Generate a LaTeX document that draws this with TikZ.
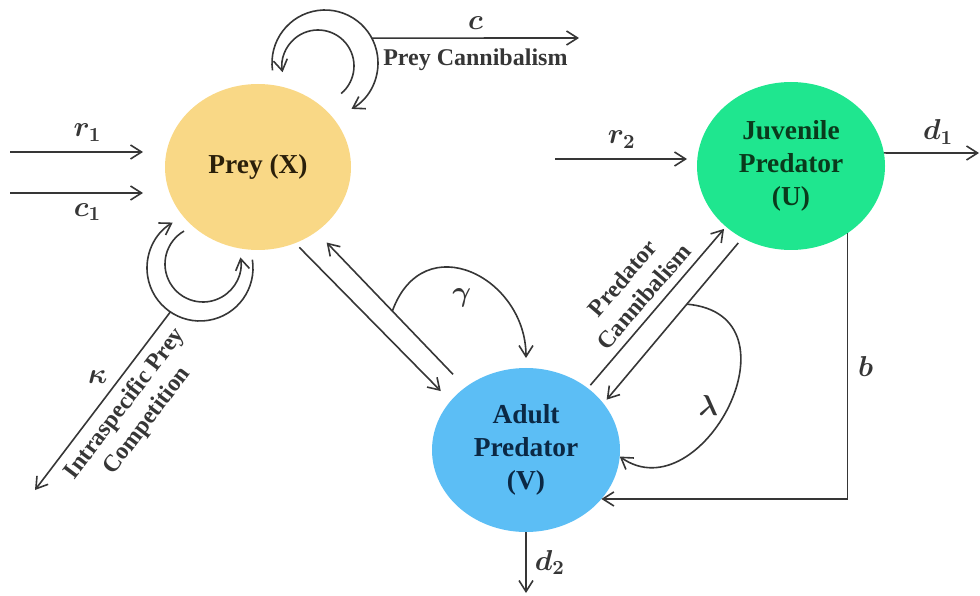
\documentclass[tikz,border=0pt]{standalone}
\usepackage{fontspec}
\setmainfont{Liberation Serif}
\usetikzlibrary{shapes.geometric,arrows.meta,calc}

\definecolor{preyfill}{HTML}{F9D886}
\definecolor{juvfill}{HTML}{1FE68F}
\definecolor{adultfill}{HTML}{5CBEF5}
\definecolor{preytext}{HTML}{2A1F0A}
\definecolor{juvtext}{HTML}{0A3A1C}
\definecolor{adulttext}{HTML}{0B2844}
\definecolor{linecol}{HTML}{363636}

\begin{document}
\begin{tikzpicture}[x=0.5pt,y=0.5pt,>={Straight Barb[length=5.5pt,width=7pt]},
  arr/.style={linecol,line width=0.8pt},
  pop/.style={ellipse,inner sep=0pt,outer sep=0pt,align=center,font=\fontsize{13.7}{16.5}\selectfont\bfseries},
  lbl/.style={inner sep=2pt,font=\fontsize{14}{16}\selectfont\boldmath},
  note/.style={inner sep=2pt,align=center,font=\fontsize{12}{14}\selectfont\bfseries}]
\useasboundingbox (0,0) rectangle (980,595);
\coordinate (P) at (258,428);
\coordinate (J) at (791,429);
\coordinate (A) at (526,145);
\coordinate (ctop) at (325,532);
\coordinate (ctin) at (318,529);
\coordinate (kout) at (200,327);
\coordinate (kin) at (203,331);
\coordinate (r1in) at (10,443);
\coordinate (c1in) at (10,402);
\coordinate (r2in) at (555,436);
\coordinate (d1out) at (979,442);
\coordinate (d2out) at (526,2);
\coordinate (cout) at (579,557);
\coordinate (cin) at ($(ctop)+(28:53)$);
\coordinate (k0) at ($(kout)+(-124:53)$);
\coordinate (k1) at (35,105);
\node[pop,fill=preyfill,text=preytext,minimum width=93pt,minimum height=83pt] (prey) at (P) {Prey (X)};
\node[pop,fill=juvfill,text=juvtext,minimum width=94pt,minimum height=84pt] (juv) at (J) {Juvenile\\Predator\\(U)};
\node[pop,fill=adultfill,text=adulttext,minimum width=94pt,minimum height=82pt] (adult) at (A) {Adult\\Predator\\(V)};
\draw[arr,->,shorten >=11pt] (r1in) -- (r1in -| prey.west) node[lbl,midway,above=3pt] {$r_1$};
\draw[arr,->,shorten >=11pt] (c1in) -- (c1in -| prey.west) node[lbl,midway,below=3pt] {$c_1$};
\draw[arr,->,shorten >=5pt] (r2in) -- (r2in -| juv.west) node[lbl,pos=0.47,above=3pt] {$r_2$};
\draw[arr,->] (juv.8) -- (d1out) node[lbl,pos=0.57,above=2pt] {$d_1$};
\draw[arr,->] (adult.south) -- (d2out) node[lbl,midway,right=2pt] {$d_2$};
\draw[arr,->] ($(ctop)+(188:53)$) arc[start angle=188,end angle=-60,radius=53];
\draw[arr,->] ($(ctin)+(-50:36)$) arc[start angle=-50,end angle=190,radius=36];
\draw[arr,->] (cin) -- (cout) node[lbl,midway,above=2pt] {$c$} node[note,midway,below=3pt] {Prey Cannibalism};
\draw[arr,->] ($(kout)+(9:53)$) arc[start angle=9,end angle=-239,radius=53];
\draw[arr,->] ($(kin)+(120:38)$) arc[start angle=120,end angle=370,radius=38];
\draw[arr,<-] (k1) -- (k0) node[note,pos=0.55,sloped,below=2pt] {Intraspecific Prey\\Competition} node[lbl,pos=0.57,above left] {$\kappa$};
\draw[arr,->,shorten <=3pt,shorten >=7pt] (prey.-64) -- (adult.147);
\draw[arr,->,shorten <=9pt,shorten >=7.5pt] (adult.134.6) -- (prey.-48.6) coordinate[pos=0.49] (g0);
\draw[arr,->,shorten >=5pt] (g0) to[out=70,in=90,looseness=1.6] node[lbl,pos=0.45,below=7pt] {$\gamma$} (adult.north);
\draw[arr,->,shorten <=2pt,shorten >=1.5pt] (adult.45.4) -- (juv.-137.6) node[note,midway,sloped,above=2pt] {Predator\\Cannibalism};
\draw[arr,->,shorten <=3.3pt,shorten >=2.5pt] (juv.-124.5) -- (adult.31.7) coordinate[pos=0.4] (l0);
\draw[arr,->] (l0) .. controls +(-5:120) and +(-35:100) .. (adult.-4) node[lbl,pos=0.5,left=3pt] {$\lambda$};
\draw[arr,->] (juv.-50.3) |- (adult.-33) node[lbl,pos=0.25,right=3pt] {$b$};
\end{tikzpicture}
\end{document}
